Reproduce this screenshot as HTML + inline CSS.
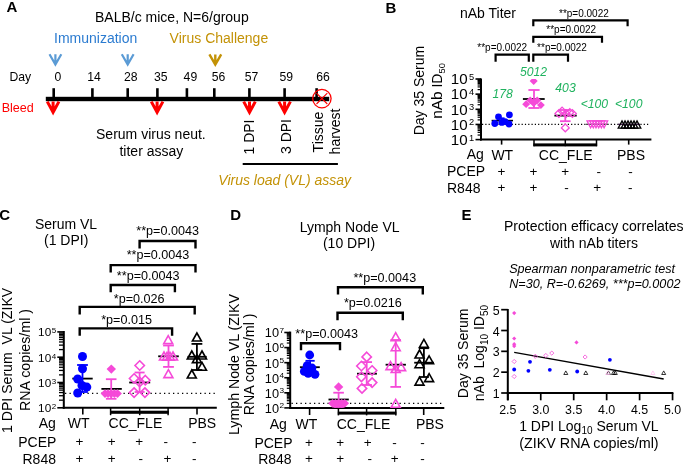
<!DOCTYPE html>
<html><head><meta charset="utf-8"><style>
html,body{margin:0;padding:0;background:#fff;overflow:hidden;}
svg{display:block;will-change:transform;}
text{font-family:"Liberation Sans",sans-serif;}
</style></head><body>
<svg width="685" height="465" viewBox="0 0 685 465">
<text x="6.6" y="12.4" text-anchor="start" fill="#000" style="font-size:15px;font-weight:bold;" >A</text>
<text x="95" y="21.7" text-anchor="start" fill="#000" style="font-size:14px;" >BALB/c mice, N=6/group</text>
<text x="54.0" y="42.9" text-anchor="start" fill="#2b7bd0" style="font-size:14px;" >Immunization</text>
<text x="169.6" y="42.9" text-anchor="start" fill="#c39206" style="font-size:14px;" >Virus Challenge</text>
<path d="M49.5 54.3L55.4 64.5L61.3 54.3M55.4 54.3L55.4 64.5" stroke="#5b9bd5" fill="none" stroke-width="2.2" stroke-linejoin="miter" stroke-miterlimit="10"/>
<path d="M121.8 54.3L127.7 64.5L133.6 54.3M127.7 54.3L127.7 64.5" stroke="#5b9bd5" fill="none" stroke-width="2.2" stroke-linejoin="miter" stroke-miterlimit="10"/>
<path d="M209.4 54.4L215.3 64.5L221.20000000000002 54.4M215.3 54.4L215.3 64.5" stroke="#c39206" fill="none" stroke-width="2.4" stroke-linejoin="miter" stroke-miterlimit="10"/>
<text x="9.4" y="81.3" text-anchor="start" fill="#000" style="font-size:12.2px;" >Day</text>
<text x="57.9" y="81.4" text-anchor="middle" fill="#000" style="font-size:12.2px;" >0</text>
<rect x="52.400000000000006" y="88.2" width="2.6" height="10" fill="#000"/>
<text x="94" y="81.4" text-anchor="middle" fill="#000" style="font-size:12.2px;" >14</text>
<rect x="91.10000000000001" y="88.2" width="2.6" height="10" fill="#000"/>
<text x="130.7" y="81.4" text-anchor="middle" fill="#000" style="font-size:12.2px;" >28</text>
<rect x="126.4" y="88.2" width="2.6" height="10" fill="#000"/>
<text x="160.7" y="81.4" text-anchor="middle" fill="#000" style="font-size:12.2px;" >35</text>
<rect x="156.1" y="88.2" width="2.6" height="10" fill="#000"/>
<text x="190.4" y="81.4" text-anchor="middle" fill="#000" style="font-size:12.2px;" >49</text>
<rect x="185.6" y="88.2" width="2.6" height="10" fill="#000"/>
<text x="218.6" y="81.4" text-anchor="middle" fill="#000" style="font-size:12.2px;" >56</text>
<rect x="213.0" y="88.2" width="2.6" height="10" fill="#000"/>
<text x="251.5" y="81.4" text-anchor="middle" fill="#000" style="font-size:12.2px;" >57</text>
<rect x="248.1" y="88.2" width="2.6" height="10" fill="#000"/>
<text x="286.3" y="81.4" text-anchor="middle" fill="#000" style="font-size:12.2px;" >59</text>
<rect x="283.3" y="88.2" width="2.6" height="10" fill="#000"/>
<text x="323" y="81.4" text-anchor="middle" fill="#000" style="font-size:12.2px;" >66</text>
<rect x="315.3" y="88.2" width="2.6" height="10" fill="#000"/>
<rect x="45.8" y="96.8" width="283.4" height="4.4" fill="#000"/>
<path d="M47.300000000000004 101.6L53.1 112.3L58.9 101.6M53.1 101.6L53.1 112.3" stroke="#ff0000" fill="none" stroke-width="3.0" stroke-linejoin="miter" stroke-miterlimit="10"/>
<path d="M151.29999999999998 101.6L157.1 112.3L162.9 101.6M157.1 101.6L157.1 112.3" stroke="#ff0000" fill="none" stroke-width="3.0" stroke-linejoin="miter" stroke-miterlimit="10"/>
<path d="M243.7 101.6L249.5 112.3L255.3 101.6M249.5 101.6L249.5 112.3" stroke="#ff0000" fill="none" stroke-width="3.0" stroke-linejoin="miter" stroke-miterlimit="10"/>
<path d="M278.8 101.6L284.6 112.3L290.40000000000003 101.6M284.6 101.6L284.6 112.3" stroke="#ff0000" fill="none" stroke-width="3.0" stroke-linejoin="miter" stroke-miterlimit="10"/>
<circle cx="321.9" cy="98.6" r="9.2" fill="none" stroke="#ff0000" stroke-width="1.3"/>
<path d="M316.5 93.2L327.3 104M327.3 93.2L316.5 104" stroke="#ff0000" fill="none" stroke-width="1.1" />
<text x="1.7" y="112.1" text-anchor="start" fill="#ff0000" style="font-size:12.55px;" >Bleed</text>
<text x="150.9" y="138.8" text-anchor="middle" fill="#000" style="font-size:14px;" >Serum virus neut.</text>
<text x="151.4" y="155.7" text-anchor="middle" fill="#000" style="font-size:14px;" >titer assay</text>
<text transform="translate(254.4,154.5) rotate(-90)" text-anchor="start" fill="#000" style="font-size:14px;" >1 DPI</text>
<text transform="translate(290.9,154.0) rotate(-90)" text-anchor="start" fill="#000" style="font-size:14px;" >3 DPI</text>
<text transform="translate(322.6,152.4) rotate(-90)" text-anchor="start" fill="#000" style="font-size:14px;" >Tissue</text>
<text transform="translate(340.1,154.4) rotate(-90)" text-anchor="start" fill="#000" style="font-size:14px;" >harvest</text>
<line x1="242.7" y1="164" x2="337.9" y2="164" stroke="#000" stroke-width="1.9" />
<text x="218.3" y="185.2" text-anchor="start" fill="#c39206" style="font-size:14px;font-style:italic;" >Virus load (VL) assay</text>
<text x="385.6" y="12.8" text-anchor="start" fill="#000" style="font-size:15px;font-weight:bold;" >B</text>
<text x="460" y="18.3" text-anchor="start" fill="#000" style="font-size:14px;" >nAb Titer</text>
<path d="M533.3 26.2V20.4H627.6V26.2" stroke="#000" fill="none" stroke-width="2.2" stroke-linejoin="miter" stroke-linecap="butt"/>
<text x="583.9" y="16.9" text-anchor="middle" fill="#000" style="font-size:10px;" >**p=0.0022</text>
<path d="M533.3 42.7V36.8H602V42.7" stroke="#000" fill="none" stroke-width="2.2" stroke-linejoin="miter" stroke-linecap="butt"/>
<text x="571.2" y="32.8" text-anchor="middle" fill="#000" style="font-size:10px;" >**p=0.0022</text>
<path d="M533.3 61.8V54.6H568V61.8" stroke="#000" fill="none" stroke-width="2.2" stroke-linejoin="miter" stroke-linecap="butt"/>
<text x="562.0" y="50.9" text-anchor="middle" fill="#000" style="font-size:10px;" >**p=0.0022</text>
<path d="M495.6 61.8V54.6H528.8V61.8" stroke="#000" fill="none" stroke-width="2.2" stroke-linejoin="miter" stroke-linecap="butt"/>
<text x="502.2" y="50.9" text-anchor="middle" fill="#000" style="font-size:10px;" >**p=0.0022</text>
<line x1="481" y1="78.5" x2="481" y2="140.6" stroke="#000" stroke-width="2" />
<line x1="480" y1="139.6" x2="651.4" y2="139.6" stroke="#000" stroke-width="2" />
<line x1="475.5" y1="139.6" x2="481" y2="139.6" stroke="#000" stroke-width="1.6" />
<g transform="translate(467.6,144.9) scale(1.08,1)"><text x="0" y="0" text-anchor="end" style="font-size:14px;">10</text><text x="1.3" y="-4.3" style="font-size:8.6px;">1</text></g>
<line x1="475.5" y1="124.44999999999999" x2="481" y2="124.44999999999999" stroke="#000" stroke-width="1.6" />
<g transform="translate(467.6,129.75) scale(1.08,1)"><text x="0" y="0" text-anchor="end" style="font-size:14px;">10</text><text x="1.3" y="-4.3" style="font-size:8.6px;">2</text></g>
<line x1="475.5" y1="109.3" x2="481" y2="109.3" stroke="#000" stroke-width="1.6" />
<g transform="translate(467.6,114.6) scale(1.08,1)"><text x="0" y="0" text-anchor="end" style="font-size:14px;">10</text><text x="1.3" y="-4.3" style="font-size:8.6px;">3</text></g>
<line x1="475.5" y1="94.14999999999999" x2="481" y2="94.14999999999999" stroke="#000" stroke-width="1.6" />
<g transform="translate(467.6,99.45) scale(1.08,1)"><text x="0" y="0" text-anchor="end" style="font-size:14px;">10</text><text x="1.3" y="-4.3" style="font-size:8.6px;">4</text></g>
<line x1="475.5" y1="79.0" x2="481" y2="79.0" stroke="#000" stroke-width="1.6" />
<g transform="translate(467.6,84.3) scale(1.08,1)"><text x="0" y="0" text-anchor="end" style="font-size:14px;">10</text><text x="1.3" y="-4.3" style="font-size:8.6px;">5</text></g>
<line x1="477.6" y1="135.03939556569068" x2="481" y2="135.03939556569068" stroke="#000" stroke-width="1.2" />
<line x1="477.6" y1="132.3716129909971" x2="481" y2="132.3716129909971" stroke="#000" stroke-width="1.2" />
<line x1="477.6" y1="130.47879113138137" x2="481" y2="130.47879113138137" stroke="#000" stroke-width="1.2" />
<line x1="477.6" y1="129.0106044343093" x2="481" y2="129.0106044343093" stroke="#000" stroke-width="1.2" />
<line x1="477.6" y1="127.8110085566878" x2="481" y2="127.8110085566878" stroke="#000" stroke-width="1.2" />
<line x1="477.6" y1="126.796764693784" x2="481" y2="126.796764693784" stroke="#000" stroke-width="1.2" />
<line x1="477.6" y1="125.91818669707204" x2="481" y2="125.91818669707204" stroke="#000" stroke-width="1.2" />
<line x1="477.6" y1="125.14322598199422" x2="481" y2="125.14322598199422" stroke="#000" stroke-width="1.2" />
<line x1="477.6" y1="119.88939556569068" x2="481" y2="119.88939556569068" stroke="#000" stroke-width="1.2" />
<line x1="477.6" y1="117.2216129909971" x2="481" y2="117.2216129909971" stroke="#000" stroke-width="1.2" />
<line x1="477.6" y1="115.32879113138137" x2="481" y2="115.32879113138137" stroke="#000" stroke-width="1.2" />
<line x1="477.6" y1="113.86060443430931" x2="481" y2="113.86060443430931" stroke="#000" stroke-width="1.2" />
<line x1="477.6" y1="112.66100855668779" x2="481" y2="112.66100855668779" stroke="#000" stroke-width="1.2" />
<line x1="477.6" y1="111.64676469378401" x2="481" y2="111.64676469378401" stroke="#000" stroke-width="1.2" />
<line x1="477.6" y1="110.76818669707205" x2="481" y2="110.76818669707205" stroke="#000" stroke-width="1.2" />
<line x1="477.6" y1="109.99322598199421" x2="481" y2="109.99322598199421" stroke="#000" stroke-width="1.2" />
<line x1="477.6" y1="104.73939556569067" x2="481" y2="104.73939556569067" stroke="#000" stroke-width="1.2" />
<line x1="477.6" y1="102.0716129909971" x2="481" y2="102.0716129909971" stroke="#000" stroke-width="1.2" />
<line x1="477.6" y1="100.17879113138136" x2="481" y2="100.17879113138136" stroke="#000" stroke-width="1.2" />
<line x1="477.6" y1="98.71060443430932" x2="481" y2="98.71060443430932" stroke="#000" stroke-width="1.2" />
<line x1="477.6" y1="97.51100855668778" x2="481" y2="97.51100855668778" stroke="#000" stroke-width="1.2" />
<line x1="477.6" y1="96.496764693784" x2="481" y2="96.496764693784" stroke="#000" stroke-width="1.2" />
<line x1="477.6" y1="95.61818669707205" x2="481" y2="95.61818669707205" stroke="#000" stroke-width="1.2" />
<line x1="477.6" y1="94.84322598199422" x2="481" y2="94.84322598199422" stroke="#000" stroke-width="1.2" />
<line x1="477.6" y1="89.58939556569068" x2="481" y2="89.58939556569068" stroke="#000" stroke-width="1.2" />
<line x1="477.6" y1="86.9216129909971" x2="481" y2="86.9216129909971" stroke="#000" stroke-width="1.2" />
<line x1="477.6" y1="85.02879113138135" x2="481" y2="85.02879113138135" stroke="#000" stroke-width="1.2" />
<line x1="477.6" y1="83.56060443430931" x2="481" y2="83.56060443430931" stroke="#000" stroke-width="1.2" />
<line x1="477.6" y1="82.36100855668778" x2="481" y2="82.36100855668778" stroke="#000" stroke-width="1.2" />
<line x1="477.6" y1="81.346764693784" x2="481" y2="81.346764693784" stroke="#000" stroke-width="1.2" />
<line x1="477.6" y1="80.46818669707204" x2="481" y2="80.46818669707204" stroke="#000" stroke-width="1.2" />
<line x1="477.6" y1="79.69322598199422" x2="481" y2="79.69322598199422" stroke="#000" stroke-width="1.2" />
<line x1="501.6" y1="139.6" x2="501.6" y2="144.6" stroke="#000" stroke-width="1.6" />
<line x1="628.7" y1="139.6" x2="628.7" y2="144.6" stroke="#000" stroke-width="1.6" />
<line x1="534.0" y1="139.6" x2="534.0" y2="146.2" stroke="#000" stroke-width="1.5" />
<line x1="565.3" y1="139.6" x2="565.3" y2="146.2" stroke="#000" stroke-width="1.5" />
<line x1="596.5" y1="139.6" x2="596.5" y2="146.2" stroke="#000" stroke-width="1.5" />
<rect x="533.4" y="143.4" width="63.7" height="3.0" fill="#000"/>
<text x="475.3" y="158.9" text-anchor="middle" fill="#000" style="font-size:14px;" >Ag</text>
<text x="502.3" y="159.7" text-anchor="middle" fill="#000" style="font-size:14px;" >WT</text>
<text x="565.7" y="159.7" text-anchor="middle" fill="#000" style="font-size:14px;" >CC_FLE</text>
<text x="631" y="159.7" text-anchor="middle" fill="#000" style="font-size:14px;" >PBS</text>
<text x="447" y="176.3" text-anchor="start" fill="#000" style="font-size:14px;" >PCEP</text>
<text x="447" y="192.9" text-anchor="start" fill="#000" style="font-size:14px;" >R848</text>
<text x="501.4" y="175.6" text-anchor="middle" fill="#000" style="font-size:13.5px;" >+</text>
<text x="533.4" y="175.6" text-anchor="middle" fill="#000" style="font-size:13.5px;" >+</text>
<text x="565.1" y="175.6" text-anchor="middle" fill="#000" style="font-size:13.5px;" >+</text>
<text x="598.7" y="175.6" text-anchor="middle" fill="#000" style="font-size:13.5px;" >-</text>
<text x="630.6" y="175.6" text-anchor="middle" fill="#000" style="font-size:13.5px;" >-</text>
<text x="501.4" y="192.1" text-anchor="middle" fill="#000" style="font-size:13.5px;" >+</text>
<text x="533.4" y="192.1" text-anchor="middle" fill="#000" style="font-size:13.5px;" >+</text>
<text x="566.6" y="192.1" text-anchor="middle" fill="#000" style="font-size:13.5px;" >-</text>
<text x="597.1" y="192.1" text-anchor="middle" fill="#000" style="font-size:13.5px;" >+</text>
<text x="630.2" y="192.1" text-anchor="middle" fill="#000" style="font-size:13.5px;" >-</text>
<text transform="translate(423.9,90.6) rotate(-90)" text-anchor="middle" fill="#000" style="font-size:14px;" >Day 35 Serum</text>
<text transform="translate(442.4,118.8) rotate(-90)" text-anchor="start" style="font-size:14px;"><tspan style="font-size:15.4px">nAb</tspan> ID<tspan style="font-size:9.4px" dy="3">50</tspan></text>
<line x1="482" y1="124.4" x2="649" y2="124.4" stroke="#000" stroke-width="1.2" stroke-dasharray="1.2 2.1"/>
<text x="502.6" y="97.9" text-anchor="middle" fill="#1fb25e" style="font-size:12.2px;font-style:italic;" >178</text>
<text x="533.6" y="76.3" text-anchor="middle" fill="#1fb25e" style="font-size:12.2px;font-style:italic;" >5012</text>
<text x="565.5" y="92.4" text-anchor="middle" fill="#1fb25e" style="font-size:12.2px;font-style:italic;" >403</text>
<text x="594.4" y="108.0" text-anchor="middle" fill="#1fb25e" style="font-size:12.2px;font-style:italic;" >&lt;100</text>
<text x="628.7" y="108.0" text-anchor="middle" fill="#1fb25e" style="font-size:12.2px;font-style:italic;" >&lt;100</text>
<line x1="491.6" y1="120.6" x2="513" y2="120.6" stroke="#000" stroke-width="1.6" />
<line x1="501.8" y1="118.2" x2="501.8" y2="123" stroke="#0000ff" stroke-width="1.6" />
<line x1="499" y1="118.2" x2="504.6" y2="118.2" stroke="#0000ff" stroke-width="1.6" />
<circle cx="498.5" cy="116.8" r="3.4" fill="#0000ff"/>
<circle cx="509.4" cy="114.8" r="3.4" fill="#0000ff"/>
<circle cx="494.8" cy="123.5" r="3.4" fill="#0000ff"/>
<circle cx="501.8" cy="122.4" r="3.4" fill="#0000ff"/>
<circle cx="509" cy="124" r="3.4" fill="#0000ff"/>
<circle cx="505" cy="121.6" r="3.4" fill="#0000ff"/>
<line x1="522.9" y1="99" x2="544.7" y2="99" stroke="#000" stroke-width="1.8" />
<line x1="534" y1="90" x2="534" y2="108" stroke="#f54ad8" stroke-width="1.8" />
<line x1="528.4" y1="90" x2="539.6" y2="90" stroke="#f54ad8" stroke-width="1.8" />
<line x1="528.4" y1="108" x2="539.6" y2="108" stroke="#f54ad8" stroke-width="1.8" />
<clipPath id="cpB"><rect x="470" y="79" width="200" height="70"/></clipPath>
<g clip-path="url(#cpB)">
<path d="M533.7 77.0L537.7 81.0L533.7 85.0L529.7 81.0Z" stroke="none" fill="#f54ad8" stroke-width="1" />
</g>
<path d="M526.1 100.3L530.0 104.2L526.1 108.10000000000001L522.2 104.2Z" stroke="none" fill="#f54ad8" stroke-width="1" />
<path d="M540.9 101.19999999999999L544.8 105.1L540.9 109.0L537.0 105.1Z" stroke="none" fill="#f54ad8" stroke-width="1" />
<path d="M533.7 99.3L537.6 103.2L533.7 107.10000000000001L529.8000000000001 103.2Z" stroke="none" fill="#f54ad8" stroke-width="1" />
<path d="M530.2 96.39999999999999L534.1 100.3L530.2 104.2L526.3000000000001 100.3Z" stroke="none" fill="#f54ad8" stroke-width="1" />
<path d="M537.2 96.39999999999999L541.1 100.3L537.2 104.2L533.3000000000001 100.3Z" stroke="none" fill="#f54ad8" stroke-width="1" />
<line x1="554.4" y1="115.6" x2="576.7" y2="115.6" stroke="#000" stroke-width="1.8" />
<line x1="565.3" y1="110" x2="565.3" y2="121.2" stroke="#f54ad8" stroke-width="1.8" />
<line x1="560.0" y1="110" x2="570.5999999999999" y2="110" stroke="#f54ad8" stroke-width="1.8" />
<line x1="560.0" y1="121.2" x2="570.5999999999999" y2="121.2" stroke="#f54ad8" stroke-width="1.8" />
<path d="M558.9 109.6L562.8 113.5L558.9 117.4L555.0 113.5Z" stroke="#f54ad8" fill="none" stroke-width="1.3" />
<path d="M562.1 107.1L566.0 111.0L562.1 114.9L558.2 111.0Z" stroke="#f54ad8" fill="none" stroke-width="1.3" />
<path d="M566 109.6L569.9 113.5L566 117.4L562.1 113.5Z" stroke="#f54ad8" fill="none" stroke-width="1.3" />
<path d="M569.8 108.6L573.6999999999999 112.5L569.8 116.4L565.9 112.5Z" stroke="#f54ad8" fill="none" stroke-width="1.3" />
<path d="M572.4 109.6L576.3 113.5L572.4 117.4L568.5 113.5Z" stroke="#f54ad8" fill="none" stroke-width="1.3" />
<path d="M565.3 124.0L569.1999999999999 127.9L565.3 131.8L561.4 127.9Z" stroke="#f54ad8" fill="none" stroke-width="1.3" />
<line x1="586" y1="124.3" x2="608" y2="124.3" stroke="#444" stroke-width="1.2" />
<path d="M587.0 120.9L594.2 120.9L590.6 127.9Z" stroke="#f54ad8" fill="none" stroke-width="1.3" stroke-linejoin="miter"/>
<path d="M589.6999999999999 120.9L596.9 120.9L593.3 127.9Z" stroke="#f54ad8" fill="none" stroke-width="1.3" stroke-linejoin="miter"/>
<path d="M592.4 120.9L599.6 120.9L596.0 127.9Z" stroke="#f54ad8" fill="none" stroke-width="1.3" stroke-linejoin="miter"/>
<path d="M595.1 120.9L602.3000000000001 120.9L598.7 127.9Z" stroke="#f54ad8" fill="none" stroke-width="1.3" stroke-linejoin="miter"/>
<path d="M597.8 120.9L605.0 120.9L601.4 127.9Z" stroke="#f54ad8" fill="none" stroke-width="1.3" stroke-linejoin="miter"/>
<path d="M600.5 120.9L607.7 120.9L604.1 127.9Z" stroke="#f54ad8" fill="none" stroke-width="1.3" stroke-linejoin="miter"/>
<line x1="618" y1="124.3" x2="640" y2="124.3" stroke="#502060" stroke-width="1.2" />
<path d="M622 120.9L625.8 128.1L618.2 128.1Z" stroke="#000" fill="none" stroke-width="1.3" stroke-linejoin="miter"/>
<path d="M625 120.9L628.8 128.1L621.2 128.1Z" stroke="#000" fill="none" stroke-width="1.3" stroke-linejoin="miter"/>
<path d="M628 120.9L631.8 128.1L624.2 128.1Z" stroke="#000" fill="none" stroke-width="1.3" stroke-linejoin="miter"/>
<path d="M631 120.9L634.8 128.1L627.2 128.1Z" stroke="#000" fill="none" stroke-width="1.3" stroke-linejoin="miter"/>
<path d="M634 120.9L637.8 128.1L630.2 128.1Z" stroke="#000" fill="none" stroke-width="1.3" stroke-linejoin="miter"/>
<path d="M637 120.9L640.8 128.1L633.2 128.1Z" stroke="#000" fill="none" stroke-width="1.3" stroke-linejoin="miter"/>
<text x="-0.8" y="219.7" text-anchor="start" fill="#000" style="font-size:15px;font-weight:bold;" >C</text>
<text x="66" y="228.7" text-anchor="middle" fill="#000" style="font-size:14px;" >Serum VL</text>
<text x="66.2" y="244.7" text-anchor="middle" fill="#000" style="font-size:14px;" >(1 DPI)</text>
<path d="M139.6 248.4V241H195.5V248.4" stroke="#000" fill="none" stroke-width="2.4" stroke-linejoin="miter" stroke-linecap="butt"/>
<text x="167.6" y="234.8" text-anchor="middle" fill="#000" style="font-size:12.6px;" >**p=0.0043</text>
<path d="M110.7 272.5V265.1H195.5V272.5" stroke="#000" fill="none" stroke-width="2.4" stroke-linejoin="miter" stroke-linecap="butt"/>
<text x="158" y="259.4" text-anchor="middle" fill="#000" style="font-size:12.6px;" >**p=0.0043</text>
<path d="M110.7 292.3V285H174.9V292.3" stroke="#000" fill="none" stroke-width="2.4" stroke-linejoin="miter" stroke-linecap="butt"/>
<text x="148.2" y="280.1" text-anchor="middle" fill="#000" style="font-size:12.6px;" >**p=0.0043</text>
<path d="M79.7 314.6V306.9H194.7V314.6" stroke="#000" fill="none" stroke-width="2.4" stroke-linejoin="miter" stroke-linecap="butt"/>
<text x="139.2" y="303.2" text-anchor="middle" fill="#000" style="font-size:12.6px;" >*p=0.026</text>
<path d="M79.7 335.8V328.4H172.1V335.8" stroke="#000" fill="none" stroke-width="2.4" stroke-linejoin="miter" stroke-linecap="butt"/>
<text x="126.6" y="324.0" text-anchor="middle" fill="#000" style="font-size:12.6px;" >*p=0.015</text>
<line x1="63.8" y1="331.0" x2="63.8" y2="408.8" stroke="#000" stroke-width="2" />
<line x1="62.8" y1="407.8" x2="216.8" y2="407.8" stroke="#000" stroke-width="2" />
<line x1="57.3" y1="407.8" x2="63.8" y2="407.8" stroke="#000" stroke-width="1.6" />
<g transform="translate(51.2,412.3) scale(1.07,1)"><text x="0" y="0" text-anchor="end" style="font-size:11px;">10</text><text x="0.6" y="-3.2" style="font-size:7.5px;">2</text></g>
<line x1="57.3" y1="382.5" x2="63.8" y2="382.5" stroke="#000" stroke-width="1.6" />
<g transform="translate(51.2,387.0) scale(1.07,1)"><text x="0" y="0" text-anchor="end" style="font-size:11px;">10</text><text x="0.6" y="-3.2" style="font-size:7.5px;">3</text></g>
<line x1="57.3" y1="357.2" x2="63.8" y2="357.2" stroke="#000" stroke-width="1.6" />
<g transform="translate(51.2,361.7) scale(1.07,1)"><text x="0" y="0" text-anchor="end" style="font-size:11px;">10</text><text x="0.6" y="-3.2" style="font-size:7.5px;">4</text></g>
<line x1="57.3" y1="331.9" x2="63.8" y2="331.9" stroke="#000" stroke-width="1.6" />
<g transform="translate(51.2,336.4) scale(1.07,1)"><text x="0" y="0" text-anchor="end" style="font-size:11px;">10</text><text x="0.6" y="-3.2" style="font-size:7.5px;">5</text></g>
<line x1="59.0" y1="400.18394110970127" x2="63.8" y2="400.18394110970127" stroke="#000" stroke-width="1.3" />
<line x1="59.0" y1="395.7288322555925" x2="63.8" y2="395.7288322555925" stroke="#000" stroke-width="1.3" />
<line x1="59.0" y1="392.5678822194026" x2="63.8" y2="392.5678822194026" stroke="#000" stroke-width="1.3" />
<line x1="59.0" y1="390.11605889029875" x2="63.8" y2="390.11605889029875" stroke="#000" stroke-width="1.3" />
<line x1="59.0" y1="388.11277336529383" x2="63.8" y2="388.11277336529383" stroke="#000" stroke-width="1.3" />
<line x1="59.0" y1="386.4190195876393" x2="63.8" y2="386.4190195876393" stroke="#000" stroke-width="1.3" />
<line x1="59.0" y1="384.95182332910383" x2="63.8" y2="384.95182332910383" stroke="#000" stroke-width="1.3" />
<line x1="59.0" y1="383.6576645111851" x2="63.8" y2="383.6576645111851" stroke="#000" stroke-width="1.3" />
<line x1="59.0" y1="374.88394110970125" x2="63.8" y2="374.88394110970125" stroke="#000" stroke-width="1.3" />
<line x1="59.0" y1="370.42883225559257" x2="63.8" y2="370.42883225559257" stroke="#000" stroke-width="1.3" />
<line x1="59.0" y1="367.26788221940257" x2="63.8" y2="367.26788221940257" stroke="#000" stroke-width="1.3" />
<line x1="59.0" y1="364.81605889029873" x2="63.8" y2="364.81605889029873" stroke="#000" stroke-width="1.3" />
<line x1="59.0" y1="362.8127733652938" x2="63.8" y2="362.8127733652938" stroke="#000" stroke-width="1.3" />
<line x1="59.0" y1="361.1190195876393" x2="63.8" y2="361.1190195876393" stroke="#000" stroke-width="1.3" />
<line x1="59.0" y1="359.6518233291038" x2="63.8" y2="359.6518233291038" stroke="#000" stroke-width="1.3" />
<line x1="59.0" y1="358.3576645111851" x2="63.8" y2="358.3576645111851" stroke="#000" stroke-width="1.3" />
<line x1="59.0" y1="349.5839411097013" x2="63.8" y2="349.5839411097013" stroke="#000" stroke-width="1.3" />
<line x1="59.0" y1="345.12883225559256" x2="63.8" y2="345.12883225559256" stroke="#000" stroke-width="1.3" />
<line x1="59.0" y1="341.96788221940255" x2="63.8" y2="341.96788221940255" stroke="#000" stroke-width="1.3" />
<line x1="59.0" y1="339.5160588902987" x2="63.8" y2="339.5160588902987" stroke="#000" stroke-width="1.3" />
<line x1="59.0" y1="337.5127733652938" x2="63.8" y2="337.5127733652938" stroke="#000" stroke-width="1.3" />
<line x1="59.0" y1="335.81901958763933" x2="63.8" y2="335.81901958763933" stroke="#000" stroke-width="1.3" />
<line x1="59.0" y1="334.3518233291038" x2="63.8" y2="334.3518233291038" stroke="#000" stroke-width="1.3" />
<line x1="59.0" y1="333.05766451118507" x2="63.8" y2="333.05766451118507" stroke="#000" stroke-width="1.3" />
<line x1="82.8" y1="407.8" x2="82.8" y2="414.4" stroke="#000" stroke-width="1.6" />
<line x1="197" y1="407.8" x2="197" y2="414.4" stroke="#000" stroke-width="1.6" />
<line x1="110.6" y1="407.8" x2="110.6" y2="415.2" stroke="#000" stroke-width="1.5" />
<line x1="139.7" y1="407.8" x2="139.7" y2="415.2" stroke="#000" stroke-width="1.5" />
<line x1="168.1" y1="407.8" x2="168.1" y2="415.2" stroke="#000" stroke-width="1.5" />
<rect x="110.0" y="410.7" width="58.8" height="3.1" fill="#000"/>
<text x="47.2" y="428.1" text-anchor="middle" fill="#000" style="font-size:14px;" >Ag</text>
<text x="78.6" y="428.4" text-anchor="middle" fill="#000" style="font-size:14px;" >WT</text>
<text x="135.4" y="428.4" text-anchor="middle" fill="#000" style="font-size:14px;" >CC_FLE</text>
<text x="202.2" y="428.4" text-anchor="middle" fill="#000" style="font-size:14px;" >PBS</text>
<text x="18.2" y="447.1" text-anchor="start" fill="#000" style="font-size:14px;" >PCEP</text>
<text x="22.5" y="463.9" text-anchor="start" fill="#000" style="font-size:14px;" >R848</text>
<text x="79.4" y="446.4" text-anchor="middle" fill="#000" style="font-size:13.5px;" >+</text>
<text x="111.6" y="446.4" text-anchor="middle" fill="#000" style="font-size:13.5px;" >+</text>
<text x="139.2" y="446.4" text-anchor="middle" fill="#000" style="font-size:13.5px;" >+</text>
<text x="165.8" y="446.4" text-anchor="middle" fill="#000" style="font-size:13.5px;" >-</text>
<text x="194.3" y="446.4" text-anchor="middle" fill="#000" style="font-size:13.5px;" >-</text>
<text x="79.4" y="463.2" text-anchor="middle" fill="#000" style="font-size:13.5px;" >+</text>
<text x="111.6" y="463.2" text-anchor="middle" fill="#000" style="font-size:13.5px;" >+</text>
<text x="140.7" y="463.2" text-anchor="middle" fill="#000" style="font-size:13.5px;" >-</text>
<text x="167.4" y="463.2" text-anchor="middle" fill="#000" style="font-size:13.5px;" >+</text>
<text x="194.3" y="463.2" text-anchor="middle" fill="#000" style="font-size:13.5px;" >-</text>
<text transform="translate(12.3,360.4) rotate(-90)" text-anchor="middle" fill="#000" style="font-size:14.1px;" >1 DPI Serum&#160;&#160;VL (ZIKV</text>
<text transform="translate(30.1,360.0) rotate(-90)" text-anchor="middle" fill="#000" style="font-size:14.25px;" >RNA copies/ml )</text>
<line x1="65" y1="393.3" x2="215" y2="393.3" stroke="#000" stroke-width="1.3" stroke-dasharray="1.3 3.2"/>
<line x1="72.3" y1="378.6" x2="92.7" y2="378.6" stroke="#000" stroke-width="1.8" />
<line x1="82.5" y1="365" x2="82.5" y2="392" stroke="#0000ff" stroke-width="1.8" />
<line x1="77.1" y1="365" x2="87.9" y2="365" stroke="#0000ff" stroke-width="1.8" />
<line x1="77.1" y1="392" x2="87.9" y2="392" stroke="#0000ff" stroke-width="1.8" />
<circle cx="82.5" cy="356.5" r="4.5" fill="#0000ff"/>
<circle cx="82.5" cy="368.8" r="4.5" fill="#0000ff"/>
<circle cx="77.7" cy="379" r="4.5" fill="#0000ff"/>
<circle cx="86.8" cy="387.1" r="4.5" fill="#0000ff"/>
<circle cx="82" cy="385.5" r="4.5" fill="#0000ff"/>
<circle cx="77.7" cy="393" r="4.5" fill="#0000ff"/>
<line x1="101.4" y1="388.9" x2="121.8" y2="388.9" stroke="#000" stroke-width="1.8" />
<line x1="111.2" y1="379.2" x2="111.2" y2="398.8" stroke="#f54ad8" stroke-width="1.8" />
<line x1="105.9" y1="379.2" x2="116.5" y2="379.2" stroke="#f54ad8" stroke-width="1.8" />
<line x1="105.9" y1="398.8" x2="116.5" y2="398.8" stroke="#f54ad8" stroke-width="1.8" />
<path d="M111.3 364.40000000000003L116.0 369.1L111.3 373.8L106.6 369.1Z" stroke="none" fill="#f54ad8" stroke-width="1" />
<path d="M105 389.20000000000005L109.4 393.6L105 398.0L100.6 393.6Z" stroke="none" fill="#f54ad8" stroke-width="1" />
<path d="M108 389.20000000000005L112.4 393.6L108 398.0L103.6 393.6Z" stroke="none" fill="#f54ad8" stroke-width="1" />
<path d="M111.2 389.20000000000005L115.60000000000001 393.6L111.2 398.0L106.8 393.6Z" stroke="none" fill="#f54ad8" stroke-width="1" />
<path d="M114.4 389.20000000000005L118.80000000000001 393.6L114.4 398.0L110.0 393.6Z" stroke="none" fill="#f54ad8" stroke-width="1" />
<path d="M117.5 389.20000000000005L121.9 393.6L117.5 398.0L113.1 393.6Z" stroke="none" fill="#f54ad8" stroke-width="1" />
<line x1="129.2" y1="382.5" x2="150.2" y2="382.5" stroke="#000" stroke-width="1.8" />
<line x1="139.6" y1="372.5" x2="139.6" y2="392" stroke="#f54ad8" stroke-width="1.8" />
<line x1="134.6" y1="372.5" x2="144.6" y2="372.5" stroke="#f54ad8" stroke-width="1.8" />
<line x1="134.6" y1="392" x2="144.6" y2="392" stroke="#f54ad8" stroke-width="1.8" />
<path d="M139.7 360.8L144.39999999999998 365.5L139.7 370.2L135.0 365.5Z" stroke="#f54ad8" fill="none" stroke-width="1.6" />
<path d="M134.1 373.8L138.79999999999998 378.5L134.1 383.2L129.4 378.5Z" stroke="#f54ad8" fill="none" stroke-width="1.6" />
<path d="M145.3 375.5L150.0 380.2L145.3 384.9L140.60000000000002 380.2Z" stroke="#f54ad8" fill="none" stroke-width="1.6" />
<path d="M139.7 377.3L144.39999999999998 382L139.7 386.7L135.0 382Z" stroke="#f54ad8" fill="none" stroke-width="1.6" />
<path d="M134.1 387.90000000000003L138.79999999999998 392.6L134.1 397.3L129.4 392.6Z" stroke="#f54ad8" fill="none" stroke-width="1.6" />
<path d="M144.9 387.90000000000003L149.6 392.6L144.9 397.3L140.20000000000002 392.6Z" stroke="#f54ad8" fill="none" stroke-width="1.6" />
<line x1="158.2" y1="356.3" x2="178.8" y2="356.3" stroke="#000" stroke-width="1.8" />
<line x1="168.5" y1="345.5" x2="168.5" y2="366.9" stroke="#f54ad8" stroke-width="1.8" />
<line x1="163.1" y1="345.5" x2="173.9" y2="345.5" stroke="#f54ad8" stroke-width="1.8" />
<line x1="163.1" y1="366.9" x2="173.9" y2="366.9" stroke="#f54ad8" stroke-width="1.8" />
<path d="M168.2 335.6L172.7 343.6L163.7 343.6Z" stroke="#f54ad8" fill="none" stroke-width="1.6" stroke-linejoin="miter"/>
<path d="M164 352.0L168.5 360.0L159.5 360.0Z" stroke="#f54ad8" fill="none" stroke-width="1.6" stroke-linejoin="miter"/>
<path d="M167 352.3L171.5 360.3L162.5 360.3Z" stroke="#f54ad8" fill="none" stroke-width="1.6" stroke-linejoin="miter"/>
<path d="M170 352.3L174.5 360.3L165.5 360.3Z" stroke="#f54ad8" fill="none" stroke-width="1.6" stroke-linejoin="miter"/>
<path d="M173 352.0L177.5 360.0L168.5 360.0Z" stroke="#f54ad8" fill="none" stroke-width="1.6" stroke-linejoin="miter"/>
<path d="M168.4 369.6L172.9 377.6L163.9 377.6Z" stroke="#f54ad8" fill="none" stroke-width="1.6" stroke-linejoin="miter"/>
<line x1="187.5" y1="356.8" x2="206.7" y2="356.8" stroke="#000" stroke-width="1.8" />
<line x1="196.9" y1="343.9" x2="196.9" y2="370" stroke="#000" stroke-width="1.8" />
<line x1="191.5" y1="343.9" x2="202.3" y2="343.9" stroke="#000" stroke-width="1.8" />
<line x1="191.5" y1="370" x2="202.3" y2="370" stroke="#000" stroke-width="1.8" />
<path d="M196.9 333.0L201.4 341.0L192.4 341.0Z" stroke="#000" fill="none" stroke-width="1.6" stroke-linejoin="miter"/>
<path d="M191.8 351.0L196.3 359.0L187.3 359.0Z" stroke="#000" fill="none" stroke-width="1.6" stroke-linejoin="miter"/>
<path d="M202 351.0L206.5 359.0L197.5 359.0Z" stroke="#000" fill="none" stroke-width="1.6" stroke-linejoin="miter"/>
<path d="M196.9 354.6L201.4 362.6L192.4 362.6Z" stroke="#000" fill="none" stroke-width="1.6" stroke-linejoin="miter"/>
<path d="M202 362.3L206.5 370.3L197.5 370.3Z" stroke="#000" fill="none" stroke-width="1.6" stroke-linejoin="miter"/>
<path d="M191.8 370.0L196.3 378.0L187.3 378.0Z" stroke="#000" fill="none" stroke-width="1.6" stroke-linejoin="miter"/>
<text x="230.2" y="219.7" text-anchor="start" fill="#000" style="font-size:15px;font-weight:bold;" >D</text>
<text x="349.6" y="231.5" text-anchor="middle" fill="#000" style="font-size:14px;" >Lymph Node VL</text>
<text x="349" y="248.1" text-anchor="middle" fill="#000" style="font-size:14px;" >(10 DPI)</text>
<path d="M338 294.4V287.3H422.8V294.4" stroke="#000" fill="none" stroke-width="2.4" stroke-linejoin="miter" stroke-linecap="butt"/>
<text x="384.8" y="281.5" text-anchor="middle" fill="#000" style="font-size:12.6px;" >**p=0.0043</text>
<path d="M337.5 320.2V312.8H402.8V320.2" stroke="#000" fill="none" stroke-width="2.4" stroke-linejoin="miter" stroke-linecap="butt"/>
<text x="372.8" y="306.7" text-anchor="middle" fill="#000" style="font-size:12.6px;" >*p=0.0216</text>
<path d="M301 350.3V343.3H340V350.3" stroke="#000" fill="none" stroke-width="2.4" stroke-linejoin="miter" stroke-linecap="butt"/>
<text x="326.7" y="338.3" text-anchor="middle" fill="#000" style="font-size:12.6px;" >**p=0.0043</text>
<line x1="290.2" y1="331.6" x2="290.2" y2="409" stroke="#000" stroke-width="2" />
<line x1="289.2" y1="408.1" x2="444.3" y2="408.1" stroke="#000" stroke-width="2" />
<line x1="284.3" y1="407.9" x2="290.2" y2="407.9" stroke="#000" stroke-width="1.6" />
<g transform="translate(279.0,412.8) scale(1.03,1)"><text x="0" y="0" text-anchor="end" style="font-size:12.4px;">10</text><text x="0.6" y="-4.5" style="font-size:8px;">2</text></g>
<line x1="284.3" y1="392.82" x2="290.2" y2="392.82" stroke="#000" stroke-width="1.6" />
<g transform="translate(279.0,397.72) scale(1.03,1)"><text x="0" y="0" text-anchor="end" style="font-size:12.4px;">10</text><text x="0.6" y="-4.5" style="font-size:8px;">3</text></g>
<line x1="284.3" y1="377.73999999999995" x2="290.2" y2="377.73999999999995" stroke="#000" stroke-width="1.6" />
<g transform="translate(279.0,382.64) scale(1.03,1)"><text x="0" y="0" text-anchor="end" style="font-size:12.4px;">10</text><text x="0.6" y="-4.5" style="font-size:8px;">4</text></g>
<line x1="284.3" y1="362.65999999999997" x2="290.2" y2="362.65999999999997" stroke="#000" stroke-width="1.6" />
<g transform="translate(279.0,367.56) scale(1.03,1)"><text x="0" y="0" text-anchor="end" style="font-size:12.4px;">10</text><text x="0.6" y="-4.5" style="font-size:8px;">5</text></g>
<line x1="284.3" y1="347.58" x2="290.2" y2="347.58" stroke="#000" stroke-width="1.6" />
<g transform="translate(279.0,352.48) scale(1.03,1)"><text x="0" y="0" text-anchor="end" style="font-size:12.4px;">10</text><text x="0.6" y="-4.5" style="font-size:8px;">6</text></g>
<line x1="284.3" y1="332.5" x2="290.2" y2="332.5" stroke="#000" stroke-width="1.6" />
<g transform="translate(279.0,337.4) scale(1.03,1)"><text x="0" y="0" text-anchor="end" style="font-size:12.4px;">10</text><text x="0.6" y="-4.5" style="font-size:8px;">7</text></g>
<line x1="286.8" y1="403.36046766538715" x2="290.2" y2="403.36046766538715" stroke="#000" stroke-width="1.2" />
<line x1="286.8" y1="400.7050114788275" x2="290.2" y2="400.7050114788275" stroke="#000" stroke-width="1.2" />
<line x1="286.8" y1="398.8209353307743" x2="290.2" y2="398.8209353307743" stroke="#000" stroke-width="1.2" />
<line x1="286.8" y1="397.3595323346128" x2="290.2" y2="397.3595323346128" stroke="#000" stroke-width="1.2" />
<line x1="286.8" y1="396.1654791442146" x2="290.2" y2="396.1654791442146" stroke="#000" stroke-width="1.2" />
<line x1="286.8" y1="395.155921556585" x2="290.2" y2="395.155921556585" stroke="#000" stroke-width="1.2" />
<line x1="286.8" y1="394.2814029961615" x2="290.2" y2="394.2814029961615" stroke="#000" stroke-width="1.2" />
<line x1="286.8" y1="393.51002295765494" x2="290.2" y2="393.51002295765494" stroke="#000" stroke-width="1.2" />
<line x1="286.8" y1="388.28046766538716" x2="290.2" y2="388.28046766538716" stroke="#000" stroke-width="1.2" />
<line x1="286.8" y1="385.62501147882745" x2="290.2" y2="385.62501147882745" stroke="#000" stroke-width="1.2" />
<line x1="286.8" y1="383.7409353307743" x2="290.2" y2="383.7409353307743" stroke="#000" stroke-width="1.2" />
<line x1="286.8" y1="382.27953233461284" x2="290.2" y2="382.27953233461284" stroke="#000" stroke-width="1.2" />
<line x1="286.8" y1="381.0854791442146" x2="290.2" y2="381.0854791442146" stroke="#000" stroke-width="1.2" />
<line x1="286.8" y1="380.075921556585" x2="290.2" y2="380.075921556585" stroke="#000" stroke-width="1.2" />
<line x1="286.8" y1="379.20140299616145" x2="290.2" y2="379.20140299616145" stroke="#000" stroke-width="1.2" />
<line x1="286.8" y1="378.43002295765496" x2="290.2" y2="378.43002295765496" stroke="#000" stroke-width="1.2" />
<line x1="286.8" y1="373.2004676653871" x2="290.2" y2="373.2004676653871" stroke="#000" stroke-width="1.2" />
<line x1="286.8" y1="370.54501147882746" x2="290.2" y2="370.54501147882746" stroke="#000" stroke-width="1.2" />
<line x1="286.8" y1="368.6609353307743" x2="290.2" y2="368.6609353307743" stroke="#000" stroke-width="1.2" />
<line x1="286.8" y1="367.1995323346128" x2="290.2" y2="367.1995323346128" stroke="#000" stroke-width="1.2" />
<line x1="286.8" y1="366.00547914421463" x2="290.2" y2="366.00547914421463" stroke="#000" stroke-width="1.2" />
<line x1="286.8" y1="364.99592155658496" x2="290.2" y2="364.99592155658496" stroke="#000" stroke-width="1.2" />
<line x1="286.8" y1="364.12140299616146" x2="290.2" y2="364.12140299616146" stroke="#000" stroke-width="1.2" />
<line x1="286.8" y1="363.35002295765497" x2="290.2" y2="363.35002295765497" stroke="#000" stroke-width="1.2" />
<line x1="286.8" y1="358.12046766538714" x2="290.2" y2="358.12046766538714" stroke="#000" stroke-width="1.2" />
<line x1="286.8" y1="355.4650114788275" x2="290.2" y2="355.4650114788275" stroke="#000" stroke-width="1.2" />
<line x1="286.8" y1="353.5809353307743" x2="290.2" y2="353.5809353307743" stroke="#000" stroke-width="1.2" />
<line x1="286.8" y1="352.1195323346128" x2="290.2" y2="352.1195323346128" stroke="#000" stroke-width="1.2" />
<line x1="286.8" y1="350.92547914421465" x2="290.2" y2="350.92547914421465" stroke="#000" stroke-width="1.2" />
<line x1="286.8" y1="349.915921556585" x2="290.2" y2="349.915921556585" stroke="#000" stroke-width="1.2" />
<line x1="286.8" y1="349.0414029961615" x2="290.2" y2="349.0414029961615" stroke="#000" stroke-width="1.2" />
<line x1="286.8" y1="348.27002295765493" x2="290.2" y2="348.27002295765493" stroke="#000" stroke-width="1.2" />
<line x1="286.8" y1="343.04046766538715" x2="290.2" y2="343.04046766538715" stroke="#000" stroke-width="1.2" />
<line x1="286.8" y1="340.38501147882744" x2="290.2" y2="340.38501147882744" stroke="#000" stroke-width="1.2" />
<line x1="286.8" y1="338.50093533077427" x2="290.2" y2="338.50093533077427" stroke="#000" stroke-width="1.2" />
<line x1="286.8" y1="337.03953233461283" x2="290.2" y2="337.03953233461283" stroke="#000" stroke-width="1.2" />
<line x1="286.8" y1="335.8454791442146" x2="290.2" y2="335.8454791442146" stroke="#000" stroke-width="1.2" />
<line x1="286.8" y1="334.835921556585" x2="290.2" y2="334.835921556585" stroke="#000" stroke-width="1.2" />
<line x1="286.8" y1="333.9614029961615" x2="290.2" y2="333.9614029961615" stroke="#000" stroke-width="1.2" />
<line x1="286.8" y1="333.19002295765495" x2="290.2" y2="333.19002295765495" stroke="#000" stroke-width="1.2" />
<line x1="309.6" y1="408.1" x2="309.6" y2="415.0" stroke="#000" stroke-width="1.6" />
<line x1="423.7" y1="408.1" x2="423.7" y2="415.0" stroke="#000" stroke-width="1.6" />
<line x1="338.4" y1="408.1" x2="338.4" y2="415.4" stroke="#000" stroke-width="1.5" />
<line x1="366.6" y1="408.1" x2="366.6" y2="415.4" stroke="#000" stroke-width="1.5" />
<line x1="395.8" y1="408.1" x2="395.8" y2="415.4" stroke="#000" stroke-width="1.5" />
<rect x="337.8" y="411.6" width="58.6" height="3.0" fill="#000"/>
<text x="278.2" y="429.3" text-anchor="middle" fill="#000" style="font-size:14px;" >Ag</text>
<text x="306.5" y="429.3" text-anchor="middle" fill="#000" style="font-size:14px;" >WT</text>
<text x="363.6" y="429.3" text-anchor="middle" fill="#000" style="font-size:14px;" >CC_FLE</text>
<text x="429.9" y="429.3" text-anchor="middle" fill="#000" style="font-size:14px;" >PBS</text>
<text x="254.4" y="447.9" text-anchor="start" fill="#000" style="font-size:14px;" >PCEP</text>
<text x="258.2" y="464.1" text-anchor="start" fill="#000" style="font-size:14px;" >R848</text>
<text x="309" y="446.6" text-anchor="middle" fill="#000" style="font-size:13.5px;" >+</text>
<text x="340.2" y="446.6" text-anchor="middle" fill="#000" style="font-size:13.5px;" >+</text>
<text x="367.7" y="446.6" text-anchor="middle" fill="#000" style="font-size:13.5px;" >+</text>
<text x="394.6" y="446.6" text-anchor="middle" fill="#000" style="font-size:13.5px;" >-</text>
<text x="422.5" y="446.6" text-anchor="middle" fill="#000" style="font-size:13.5px;" >-</text>
<text x="309" y="463.2" text-anchor="middle" fill="#000" style="font-size:13.5px;" >+</text>
<text x="340.2" y="463.2" text-anchor="middle" fill="#000" style="font-size:13.5px;" >+</text>
<text x="369.7" y="463.2" text-anchor="middle" fill="#000" style="font-size:13.5px;" >-</text>
<text x="394.6" y="463.2" text-anchor="middle" fill="#000" style="font-size:13.5px;" >+</text>
<text x="422.5" y="463.2" text-anchor="middle" fill="#000" style="font-size:13.5px;" >-</text>
<text transform="translate(239.3,364.6) rotate(-90)" text-anchor="middle" fill="#000" style="font-size:14.2px;" >Lymph Node VL (ZIKV</text>
<text transform="translate(254.3,364.4) rotate(-90)" text-anchor="middle" fill="#000" style="font-size:14.2px;" >RNA copies/ml )</text>
<line x1="291.5" y1="403.3" x2="444" y2="403.3" stroke="#000" stroke-width="1.3" stroke-dasharray="1.3 3.2"/>
<line x1="299.9" y1="367.2" x2="319.8" y2="367.2" stroke="#000" stroke-width="1.8" />
<line x1="310.1" y1="360.8" x2="310.1" y2="373" stroke="#0000ff" stroke-width="1.8" />
<line x1="305.5" y1="360.8" x2="314.70000000000005" y2="360.8" stroke="#0000ff" stroke-width="1.8" />
<line x1="305.5" y1="373" x2="314.70000000000005" y2="373" stroke="#0000ff" stroke-width="1.8" />
<circle cx="309.7" cy="355" r="4.4" fill="#0000ff"/>
<circle cx="307.2" cy="365.6" r="4.4" fill="#0000ff"/>
<circle cx="304.3" cy="371.4" r="4.4" fill="#0000ff"/>
<circle cx="315" cy="374.3" r="4.4" fill="#0000ff"/>
<circle cx="308.2" cy="373.4" r="4.4" fill="#0000ff"/>
<circle cx="312" cy="368" r="4.4" fill="#0000ff"/>
<line x1="328.5" y1="399.5" x2="348.8" y2="399.5" stroke="#000" stroke-width="1.8" />
<line x1="338.6" y1="392.7" x2="338.6" y2="407" stroke="#f54ad8" stroke-width="1.8" />
<line x1="333.3" y1="392.7" x2="343.90000000000003" y2="392.7" stroke="#f54ad8" stroke-width="1.8" />
<line x1="333.3" y1="407" x2="343.90000000000003" y2="407" stroke="#f54ad8" stroke-width="1.8" />
<path d="M338.6 382.2L343.3 386.9L338.6 391.59999999999997L333.90000000000003 386.9Z" stroke="none" fill="#f54ad8" stroke-width="1" />
<path d="M332.5 398.90000000000003L336.9 403.3L332.5 407.7L328.1 403.3Z" stroke="none" fill="#f54ad8" stroke-width="1" />
<path d="M335.5 398.90000000000003L339.9 403.3L335.5 407.7L331.1 403.3Z" stroke="none" fill="#f54ad8" stroke-width="1" />
<path d="M338.6 398.90000000000003L343.0 403.3L338.6 407.7L334.20000000000005 403.3Z" stroke="none" fill="#f54ad8" stroke-width="1" />
<path d="M341.7 398.90000000000003L346.09999999999997 403.3L341.7 407.7L337.3 403.3Z" stroke="none" fill="#f54ad8" stroke-width="1" />
<path d="M344.7 398.90000000000003L349.09999999999997 403.3L344.7 407.7L340.3 403.3Z" stroke="none" fill="#f54ad8" stroke-width="1" />
<line x1="357" y1="373.7" x2="376.9" y2="373.7" stroke="#000" stroke-width="1.8" />
<line x1="366.7" y1="362.1" x2="366.7" y2="385" stroke="#f54ad8" stroke-width="1.8" />
<line x1="361.4" y1="362.1" x2="372.0" y2="362.1" stroke="#f54ad8" stroke-width="1.8" />
<line x1="361.4" y1="385" x2="372.0" y2="385" stroke="#f54ad8" stroke-width="1.8" />
<path d="M366.7 352.2L371.4 356.9L366.7 361.59999999999997L362.0 356.9Z" stroke="#f54ad8" fill="none" stroke-width="1.6" />
<path d="M361.4 361.3L366.09999999999997 366L361.4 370.7L356.7 366Z" stroke="#f54ad8" fill="none" stroke-width="1.6" />
<path d="M372.1 365.8L376.8 370.5L372.1 375.2L367.40000000000003 370.5Z" stroke="#f54ad8" fill="none" stroke-width="1.6" />
<path d="M361.4 372.1L366.09999999999997 376.8L361.4 381.5L356.7 376.8Z" stroke="#f54ad8" fill="none" stroke-width="1.6" />
<path d="M372.1 377.90000000000003L376.8 382.6L372.1 387.3L367.40000000000003 382.6Z" stroke="#f54ad8" fill="none" stroke-width="1.6" />
<path d="M362 383.7L366.7 388.4L362 393.09999999999997L357.3 388.4Z" stroke="#f54ad8" fill="none" stroke-width="1.6" />
<line x1="385.6" y1="364.7" x2="405.9" y2="364.7" stroke="#000" stroke-width="1.8" />
<line x1="395.7" y1="340" x2="395.7" y2="386.9" stroke="#f54ad8" stroke-width="1.8" />
<line x1="390.4" y1="340" x2="401.0" y2="340" stroke="#f54ad8" stroke-width="1.8" />
<line x1="390.4" y1="386.9" x2="401.0" y2="386.9" stroke="#f54ad8" stroke-width="1.8" />
<path d="M395.7 332.6L400.2 340.6L391.2 340.6Z" stroke="#f54ad8" fill="none" stroke-width="1.6" stroke-linejoin="miter"/>
<path d="M395.7 342.7L400.2 350.7L391.2 350.7Z" stroke="#f54ad8" fill="none" stroke-width="1.6" stroke-linejoin="miter"/>
<path d="M390.5 361.6L395.0 369.6L386.0 369.6Z" stroke="#f54ad8" fill="none" stroke-width="1.6" stroke-linejoin="miter"/>
<path d="M401.1 362.6L405.6 370.6L396.6 370.6Z" stroke="#f54ad8" fill="none" stroke-width="1.6" stroke-linejoin="miter"/>
<path d="M395.7 364.5L400.2 372.5L391.2 372.5Z" stroke="#f54ad8" fill="none" stroke-width="1.6" stroke-linejoin="miter"/>
<path d="M395.7 399.3L400.2 407.3L391.2 407.3Z" stroke="#f54ad8" fill="none" stroke-width="1.6" stroke-linejoin="miter"/>
<line x1="414.2" y1="362.7" x2="434" y2="362.7" stroke="#000" stroke-width="1.8" />
<line x1="423.9" y1="348.2" x2="423.9" y2="377" stroke="#000" stroke-width="1.8" />
<line x1="418.9" y1="348.2" x2="428.9" y2="348.2" stroke="#000" stroke-width="1.8" />
<line x1="418.9" y1="377" x2="428.9" y2="377" stroke="#000" stroke-width="1.8" />
<path d="M423.9 339.4L428.4 347.4L419.4 347.4Z" stroke="#000" fill="none" stroke-width="1.6" stroke-linejoin="miter"/>
<path d="M419.5 350.0L424.0 358.0L415.0 358.0Z" stroke="#000" fill="none" stroke-width="1.6" stroke-linejoin="miter"/>
<path d="M429.1 355.8L433.6 363.8L424.6 363.8Z" stroke="#000" fill="none" stroke-width="1.6" stroke-linejoin="miter"/>
<path d="M419.5 359.7L424.0 367.7L415.0 367.7Z" stroke="#000" fill="none" stroke-width="1.6" stroke-linejoin="miter"/>
<path d="M429.1 373.6L433.6 381.6L424.6 381.6Z" stroke="#000" fill="none" stroke-width="1.6" stroke-linejoin="miter"/>
<path d="M419.5 377.1L424.0 385.1L415.0 385.1Z" stroke="#000" fill="none" stroke-width="1.6" stroke-linejoin="miter"/>
<text x="461.4" y="220.0" text-anchor="start" fill="#000" style="font-size:15px;font-weight:bold;" >E</text>
<text x="504.0" y="231.1" text-anchor="start" fill="#000" style="font-size:14px;" >Protection efficacy correlates</text>
<text x="550.0" y="248.3" text-anchor="start" fill="#000" style="font-size:14px;" >with nAb titers</text>
<text x="509.2" y="272.8" text-anchor="start" fill="#000" style="font-size:12.6px;font-style:italic;" >Spearman nonparametric test</text>
<text x="509.2" y="288.1" text-anchor="start" fill="#000" style="font-size:12.6px;font-style:italic;" >N=30, R=-0.6269, ***p=0.0002</text>
<line x1="507.8" y1="309.0" x2="507.8" y2="400.3" stroke="#000" stroke-width="2" />
<line x1="506.8" y1="393.0" x2="673.4" y2="393.0" stroke="#000" stroke-width="2" />
<line x1="501.2" y1="393.0" x2="507.8" y2="393.0" stroke="#000" stroke-width="1.7" />
<text x="499.6" y="398.0" text-anchor="end" fill="#000" style="font-size:12.4px;" >1</text>
<line x1="501.2" y1="372.17" x2="507.8" y2="372.17" stroke="#000" stroke-width="1.7" />
<text x="499.6" y="377.17" text-anchor="end" fill="#000" style="font-size:12.4px;" >2</text>
<line x1="501.2" y1="351.34000000000003" x2="507.8" y2="351.34000000000003" stroke="#000" stroke-width="1.7" />
<text x="499.6" y="356.34" text-anchor="end" fill="#000" style="font-size:12.4px;" >3</text>
<line x1="501.2" y1="330.51" x2="507.8" y2="330.51" stroke="#000" stroke-width="1.7" />
<text x="499.6" y="335.51" text-anchor="end" fill="#000" style="font-size:12.4px;" >4</text>
<line x1="501.2" y1="309.68" x2="507.8" y2="309.68" stroke="#000" stroke-width="1.7" />
<text x="499.6" y="314.68" text-anchor="end" fill="#000" style="font-size:12.4px;" >5</text>
<line x1="507.8" y1="393" x2="507.8" y2="400.3" stroke="#000" stroke-width="1.7" />
<text x="507.8" y="414.2" text-anchor="middle" fill="#000" style="font-size:12.4px;" >2.5</text>
<line x1="540.75" y1="393" x2="540.75" y2="400.3" stroke="#000" stroke-width="1.7" />
<text x="540.75" y="414.2" text-anchor="middle" fill="#000" style="font-size:12.4px;" >3.0</text>
<line x1="573.7" y1="393" x2="573.7" y2="400.3" stroke="#000" stroke-width="1.7" />
<text x="573.7" y="414.2" text-anchor="middle" fill="#000" style="font-size:12.4px;" >3.5</text>
<line x1="606.65" y1="393" x2="606.65" y2="400.3" stroke="#000" stroke-width="1.7" />
<text x="606.65" y="414.2" text-anchor="middle" fill="#000" style="font-size:12.4px;" >4.0</text>
<line x1="639.6" y1="393" x2="639.6" y2="400.3" stroke="#000" stroke-width="1.7" />
<text x="639.6" y="414.2" text-anchor="middle" fill="#000" style="font-size:12.4px;" >4.5</text>
<line x1="672.55" y1="393" x2="672.55" y2="400.3" stroke="#000" stroke-width="1.7" />
<text x="672.55" y="414.2" text-anchor="middle" fill="#000" style="font-size:12.4px;" >5.0</text>
<text x="588.9" y="430.5" text-anchor="middle" style="font-size:14px;">1 DPI Log<tspan style="font-size:10px" dy="3.5">10</tspan><tspan dy="-3.5"> Serum VL</tspan></text>
<text x="588.9" y="447.5" text-anchor="middle" fill="#000" style="font-size:14.35px;" >(ZIKV RNA copies/ml)</text>
<text transform="translate(468.1,353.4) rotate(-90)" text-anchor="middle" fill="#000" style="font-size:14px;" >Day 35 Serum</text>
<text transform="translate(484.1,401.2) rotate(-90)" text-anchor="start" style="font-size:14px;">nAb<tspan dx="7.8">Log</tspan><tspan style="font-size:10px" dy="3.4">10</tspan><tspan dy="-3.4"> ID</tspan><tspan style="font-size:10px" dy="3.4">50</tspan></text>
<line x1="514.2" y1="352.3" x2="663.7" y2="379.0" stroke="#000" stroke-width="1.3" />
<path d="M514.2 311.0L516.3000000000001 313.1L514.2 315.20000000000005L512.1 313.1Z" stroke="none" fill="#f54ad8" stroke-width="1" />
<path d="M514.2 336.4L516.3000000000001 338.5L514.2 340.6L512.1 338.5Z" stroke="none" fill="#f54ad8" stroke-width="1" />
<path d="M514.2 342.09999999999997L516.3000000000001 344.2L514.2 346.3L512.1 344.2Z" stroke="none" fill="#f54ad8" stroke-width="1" />
<path d="M514.2 344.0L516.3000000000001 346.1L514.2 348.20000000000005L512.1 346.1Z" stroke="none" fill="#f54ad8" stroke-width="1" />
<path d="M576.5 340.29999999999995L578.6 342.4L576.5 344.5L574.4 342.4Z" stroke="none" fill="#f54ad8" stroke-width="1" />
<path d="M514.2 359.4L516.3000000000001 361.5L514.2 363.6L512.1 361.5Z" stroke="#f54ad8" fill="none" stroke-width="0.8" />
<path d="M514.2 374.4L516.3000000000001 376.5L514.2 378.6L512.1 376.5Z" stroke="#f54ad8" fill="none" stroke-width="0.8" />
<path d="M535.3 354.2L537.4 356.3L535.3 358.40000000000003L533.1999999999999 356.3Z" stroke="#f54ad8" fill="none" stroke-width="0.8" />
<path d="M545.8 353.4L547.9 355.5L545.8 357.6L543.6999999999999 355.5Z" stroke="#f54ad8" fill="none" stroke-width="0.8" />
<path d="M551.8 351.0L553.9 353.1L551.8 355.20000000000005L549.6999999999999 353.1Z" stroke="#f54ad8" fill="none" stroke-width="0.8" />
<path d="M585.1 354.9L587.2 357L585.1 359.1L583.0 357Z" stroke="#f54ad8" fill="none" stroke-width="0.8" />
<circle cx="514.2" cy="369.5" r="1.9" fill="#0000ff"/>
<circle cx="530" cy="361.8" r="1.9" fill="#0000ff"/>
<circle cx="528.4" cy="370.8" r="1.9" fill="#0000ff"/>
<circle cx="549.8" cy="369.8" r="1.9" fill="#0000ff"/>
<circle cx="577.2" cy="371.5" r="1.9" fill="#0000ff"/>
<circle cx="609.9" cy="359.8" r="1.9" fill="#0000ff"/>
<path d="M565.8 370.9L567.8 374.5L563.8 374.5Z" stroke="#000" fill="none" stroke-width="0.8" stroke-linejoin="miter"/>
<path d="M585.8 370.9L587.8 374.5L583.8 374.5Z" stroke="#000" fill="none" stroke-width="0.8" stroke-linejoin="miter"/>
<path d="M608.4 370.9L610.4 374.5L606.4 374.5Z" stroke="#000" fill="none" stroke-width="0.8" stroke-linejoin="miter"/>
<path d="M613.5 370.9L615.5 374.5L611.5 374.5Z" stroke="#000" fill="none" stroke-width="0.8" stroke-linejoin="miter"/>
<path d="M615.3 370.9L617.3 374.5L613.3 374.5Z" stroke="#000" fill="none" stroke-width="0.8" stroke-linejoin="miter"/>
<path d="M663.7 370.9L665.7 374.5L661.7 374.5Z" stroke="#000" fill="none" stroke-width="0.8" stroke-linejoin="miter"/>
<path d="M607.7 370.9L609.7 374.5L605.7 374.5Z" stroke="#ffc0f0" fill="none" stroke-width="0.8" stroke-linejoin="miter"/>
<path d="M652.9 370.9L654.9 374.5L650.9 374.5Z" stroke="#ffc0f0" fill="none" stroke-width="0.8" stroke-linejoin="miter"/>
</svg>
</body></html>
